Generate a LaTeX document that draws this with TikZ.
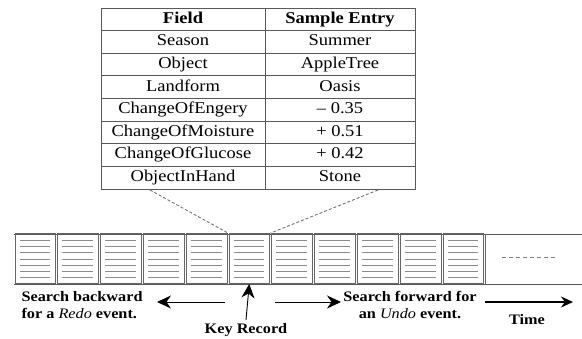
\documentclass[tikz,border=0pt]{standalone}
\usepackage{fontspec}
\setmainfont{Liberation Serif}[FakeStretch=1.12]
\usetikzlibrary{arrows.meta,positioning}

\begin{document}
\begin{tikzpicture}[x=1pt, y=-1pt, font=\fontsize{14.5}{17}\selectfont,
  rule/.style={draw=black!65, line width=0.8pt},
  tabletext/.style={font=\fontsize{16.5}{19}\selectfont, text height=11.5pt, text depth=3.5pt, inner sep=0pt},
  cellbox/.style={draw=black!60, line width=0.7pt, minimum width=40.8pt, minimum height=50pt, inner sep=0pt, anchor=south west},
  hatch/.style={draw=black!45, line width=0.9pt},
  lead/.style={draw=black!55, line width=0.9pt, dash pattern=on 3pt off 2pt},
  search/.style={draw=black, line width=0.9pt, -{Stealth[length=14pt,width=13pt]}},
  caption/.style={font=\fontsize{14.5}{17}\selectfont\bfseries}]
  \useasboundingbox (0,0) rectangle (582,339);
  % Record table
  \def\rowh{22.6}
  \node[tabletext, font=\fontsize{16.5}{19}\selectfont\bfseries] (field0) at (183,{8+\rowh*0.5}) {Field};
  \node[tabletext, font=\fontsize{16.5}{19}\selectfont\bfseries] (entry0) at (340,{8+\rowh*0.5}) {Sample Entry};
  \foreach \f/\e [count=\k] in {Season/Summer, Object/AppleTree, Landform/Oasis,
      ChangeOfEngery/– 0.35, ChangeOfMoisture/+ 0.51, ChangeOfGlucose/+ 0.42, ObjectInHand/Stone} {
    \node[tabletext] (field\k) at (183,{8+\rowh*(\k+0.5)}) {\f};
    \node[tabletext] (entry\k) at (340,{8+\rowh*(\k+0.5)}) {\e};
  }
  \draw[rule] (101,8) rectangle (415,189);
  \draw[rule] (265,8) -- (265,189);
  \foreach \k in {1,...,7}
    \draw[rule] (101,{8+\rowh*\k}) -- (415,{8+\rowh*\k});
  % Event strip
  \draw[rule] (13.5,234) -- (582,234);
  \draw[rule] (13.5,284) -- (582,284);
  \foreach \i in {0,...,10} {
    \node[cellbox] (cell\i) at ({14.5+42.8*\i},284) {};
    \foreach \j in {0,...,6}
      \draw[hatch] ({14.5+42.8*\i+5},{240.5+6.2*\j}) -- ++(30.8,0);
  }
  \draw[draw=black!60, line width=0.7pt] (485.3,234) -- (485.3,284);
  \draw[black!50, line width=1pt, dash pattern=on 4pt off 3pt] (502,258) -- (557,258);
  % Zoom lines from the table to the key record
  \coordinate (tableleft) at (150,190);
  \coordinate (tableright) at (378,190);
  \draw[lead] (tableleft) -- (cell5.north west);
  \draw[lead] (tableright) -- (cell5.north east);
  % Search directions
  \node[caption, anchor=west, align=left] (backward) at (18,305) {Search backward\\for a \textnormal{\itshape Redo} event.};
  \node[caption, align=center] (forward) at (410,305) {Search forward for\\an \textnormal{\itshape Undo} event.};
  \node[caption] (keyrec) at (246,330) {Key Record};
  \node[caption] (time) at (527,320) {Time};
  \coordinate (backtail) at (225,302);
  \coordinate (backtip) at (157,302);
  \coordinate (fwdtail) at (275,302);
  \coordinate (fwdtip) at (341,302);
  \coordinate (timetail) at (485,302);
  \coordinate (timetip) at (573,302);
  \draw[search] (backtail) -- (backtip);
  \draw[search] (fwdtail) -- (fwdtip);
  \draw[search] (keyrec.north) -- (cell5.south);
  \draw[line width=2.2pt, -{Stealth[length=12pt,width=11pt]}] (timetail) -- (timetip);
\end{tikzpicture}
\end{document}
